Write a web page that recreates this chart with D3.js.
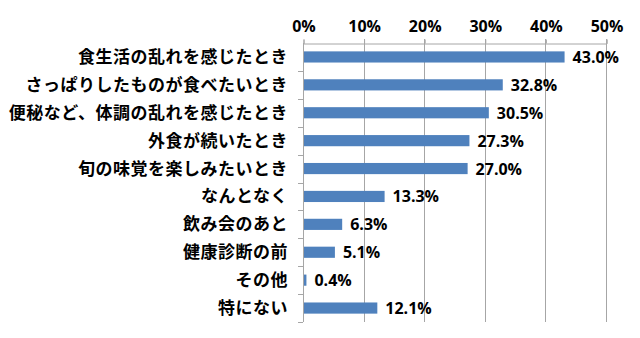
<!DOCTYPE html>
<html><head><meta charset="utf-8">
<script src="https://cdn.jsdelivr.net/npm/d3@7"></script>
<style>html,body{margin:0;padding:0;background:#fff;}svg{display:block;}</style>
</head><body>
<svg id="c" width="640" height="338"></svg>
<script>
const categories = ["食生活の乱れを感じたとき","さっぱりしたものが食べたいとき","便秘など、体調の乱れを感じたとき","外食が続いたとき","旬の味覚を楽しみたいとき","なんとなく","飲み会のあと","健康診断の前","その他","特にない"];
const values = [43.0, 32.8, 30.5, 27.3, 27.0, 13.3, 6.3, 5.1, 0.4, 12.1];
const tickValues = [0, 10, 20, 30, 40, 50];

(function () {
const svg = d3.select("#c");
const pLeft = 303, pRight = 606, pTop = 43, pBottom = 322;
const x = d3.scaleLinear().domain([0, 50]).range([pLeft, pRight]);
const y = d3.scaleBand().domain(categories).range([pTop, pBottom]).paddingInner(0.6).paddingOuter(0.3);
const yb = d3.scaleBand().domain(categories).range([pTop, pBottom]);

// gridlines
svg.append("g").selectAll("line").data(tickValues.slice(1)).join("line")
  .attr("x1", d => Math.round(x(d)) + 0.5).attr("x2", d => Math.round(x(d)) + 0.5)
  .attr("y1", pTop - 4).attr("y2", pBottom)
  .attr("stroke", "#a6a6a6").attr("stroke-width", 1);

// top axis
const xAxis = d3.axisTop(x).tickValues(tickValues).tickFormat(d => d + "%").tickSize(4).tickPadding(8);
const gx = svg.append("g").attr("transform", `translate(0.5,${pTop + 0.5})`).call(xAxis);
gx.select(".domain").attr("stroke", "#a6a6a6");
gx.selectAll(".tick line").attr("stroke", "#a6a6a6");
gx.selectAll(".tick text").attr("fill", "#000").style("font-family", "'Open Sans', sans-serif")
  .style("font-weight", "700").style("font-size", "16px");

// left axis with ticks at band boundaries
svg.append("line").attr("x1", pLeft + 0.5).attr("x2", pLeft + 0.5).attr("y1", pTop).attr("y2", pBottom)
  .attr("stroke", "#a6a6a6");
const bounds = categories.map(c => yb(c) + yb.bandwidth());
svg.append("g").selectAll("line").data(bounds).join("line")
  .attr("x1", pLeft - 5).attr("x2", pLeft).attr("y1", d => Math.round(d) + 0.5).attr("y2", d => Math.round(d) + 0.5)
  .attr("stroke", "#a6a6a6");

// bars
svg.append("g").selectAll("rect").data(categories).join("rect")
  .attr("x", pLeft + 1).attr("y", d => y(d))
  .attr("width", (d, i) => Math.max(1.5, x(values[i]) - pLeft))
  .attr("height", y.bandwidth())
  .attr("fill", "#4f81bd");

// value labels
svg.append("g").selectAll("text").data(categories).join("text")
  .attr("x", (d, i) => x(values[i]) + 9).attr("y", d => y(d) + y.bandwidth() / 2 + 6)
  .style("font-family", "'Open Sans', sans-serif").style("font-weight", "700").style("font-size", "16px")
  .attr("fill", "#000")
  .text((d, i) => values[i].toFixed(1) + "%");

// category labels
svg.append("g").selectAll("text").data(categories).join("text")
  .attr("x", 288).attr("y", d => y(d) + y.bandwidth() / 2 + 6)
  .attr("text-anchor", "end")
  .style("font-family", "'Noto Sans CJK JP', sans-serif").style("font-weight", "700").style("font-size", "17px")
  .style("letter-spacing", "0.5px")
  .attr("fill", "#000")
  .text(d => d);
})();
</script>
</body></html>
